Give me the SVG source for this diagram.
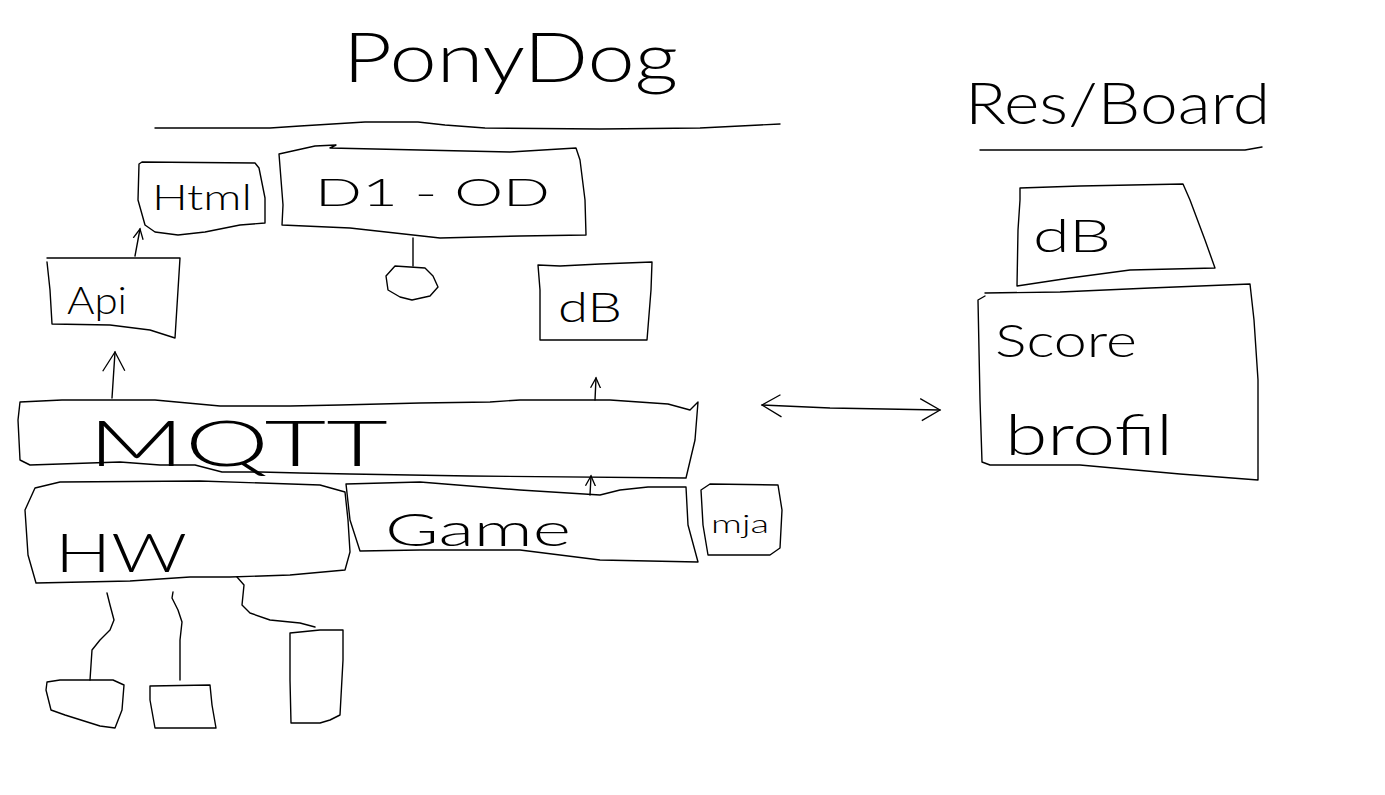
<svg xmlns="http://www.w3.org/2000/svg" width="1385" height="795" viewBox="0 0 1385 795">
<style>
.s{fill:none;stroke:#000;stroke-width:1.4;stroke-linejoin:round;stroke-linecap:round}
.t{font-family:"Lato","Liberation Sans",sans-serif;font-weight:300;fill:#000}
</style>
<defs>
<marker id="ah" viewBox="0 0 12 12" refX="10" refY="6" markerWidth="12" markerHeight="12" markerUnits="userSpaceOnUse" orient="auto-start-reverse">
<path d="M0,1 L10,6 L0,11" fill="none" stroke="#000" stroke-width="1.3"/>
</marker>
<marker id="ahb" viewBox="0 0 24 24" refX="22" refY="12" markerWidth="24" markerHeight="24" markerUnits="userSpaceOnUse" orient="auto-start-reverse">
<path d="M2,1 L22,12 L4,23" fill="none" stroke="#000" stroke-width="1.3"/>
</marker>
</defs>
<rect width="1385" height="795" fill="#fff"/>

<g id="title">
<text class="t" x="343" y="82" font-size="68" textLength="335" lengthAdjust="spacingAndGlyphs">PonyDog</text>
<path class="s" d="M155,128 L270,128 L300,126 L365,122 L418,122 L445,125 L485,128 L600,129 L700,128 L760,125 L780,124"/>
</g>

<g id="html">
<path class="s" d="M139,164 L142,162 L255,163 L259,168 L265,198 L265,223 L240,225 L205,232 L178,235 L155,232 L145,225 L138,200 Z"/>
<text class="t" x="152" y="210" font-size="36" textLength="100" lengthAdjust="spacingAndGlyphs">Html</text>
</g>

<g id="d1od">
<path class="s" d="M279,154 L315,146 L336,145 L330,148 L420,150 L510,152 L576,148 L580,160 L585,200 L586,235 L520,236 L440,238 L350,228 L282,225 L283,205 Z"/>
<text class="t" x="315" y="206" font-size="38" textLength="235" lengthAdjust="spacingAndGlyphs">D1 - OD</text>
</g>

<g id="sensor">
<path class="s" d="M395,266 L425,268 L433,276 L438,287 L430,296 L412,300 L400,297 L388,290 L386,276 Z"/>
</g>

<g id="api">
<path class="s" d="M47,258 L180,258 L178,290 L175,338 L150,330 L110,325 L52,324 L50,290 L47,262"/>
<text class="t" x="67" y="314" font-size="38" textLength="60" lengthAdjust="spacingAndGlyphs">Api</text>
</g>

<g id="db1">
<path class="s" d="M538,265 L560,266 L600,264 L652,262 L651,290 L647,340 L540,340 L540,290 Z"/>
<text class="t" x="558" y="322" font-size="42" textLength="64" lengthAdjust="spacingAndGlyphs">dB</text>
</g>

<g id="mqtt">
<path class="s" d="M20,402 L62,400 L155,400 L220,406 L290,406 L340,405 L420,403 L490,402 L520,400 L610,400 L668,404 L690,410 L698,402 L695,440 L686,478 L470,476 L350,474 L300,473 L260,472 L222,472 L195,465 L160,465 L120,462 L30,465 L20,460 L18,420 Z"/>
<text class="t" x="88" y="466" font-size="64" textLength="300" lengthAdjust="spacingAndGlyphs">MQTT</text>
</g>

<g id="hw">
<path class="s" d="M35,488 L60,482 L200,481 L320,485 L345,492 L348,520 L350,552 L345,570 L290,575 L230,577 L190,577 L130,581 L36,583 L28,555 L25,510 Z"/>
<text class="t" x="55" y="572" font-size="54" textLength="132" lengthAdjust="spacingAndGlyphs">HW</text>
</g>

<g id="game">
<path class="s" d="M346,484 L420,482 L520,490 L600,495 L620,490 L648,487 L686,487 L688,525 L698,562 L600,560 L520,550 L470,550 L420,550 L360,551 L350,520 Z"/>
<text class="t" x="385" y="546" font-size="46" textLength="186" lengthAdjust="spacingAndGlyphs">Game</text>
</g>

<g id="mja">
<path class="s" d="M701,490 L703,525 L708,555 L770,555 L780,548 L782,510 L778,485 L710,484 Z"/>
<text class="t" x="711" y="533" font-size="26" textLength="58" lengthAdjust="spacingAndGlyphs">mja</text>
</g>

<g id="resboard">
<text class="t" x="965" y="124" font-size="58" textLength="305" lengthAdjust="spacingAndGlyphs">Res/Board</text>
<path class="s" d="M980,150 L1120,150 L1245,150 L1262,147"/>
</g>

<g id="db2">
<path class="s" d="M1020,188 L1080,186 L1183,184 L1190,200 L1205,240 L1215,268 L1130,270 L1070,278 L1017,286 L1018,230 L1020,200 Z"/>
<text class="t" x="1033" y="252" font-size="46" textLength="78" lengthAdjust="spacingAndGlyphs">dB</text>
</g>

<g id="score">
<path class="s" d="M985,293 L1060,292 L1150,288 L1250,284 L1254,320 L1258,380 L1258,480 L1180,474 L1080,465 L990,465 L982,462 L980,400 L978,300 L985,296"/>
<text class="t" x="995" y="357" font-size="46" textLength="142" lengthAdjust="spacingAndGlyphs">Score</text>
<text class="t" x="1005" y="455" font-size="58" textLength="168" lengthAdjust="spacingAndGlyphs">brofil</text>
</g>

<g id="dev1">
<path class="s" d="M47,682 L60,680 L113,680 L124,685 L122,710 L115,728 L100,726 L65,715 L51,710 L46,690 Z"/>
</g>
<g id="dev2">
<path class="s" d="M150,686 L210,685 L212,705 L216,728 L155,728 L150,700 Z"/>
</g>
<g id="dev3">
<path class="s" d="M290,633 L320,630 L343,630 L343,660 L340,715 L330,720 L320,723 L291,723 L290,680 Z"/>
</g>

<g id="connectors">
<path class="s" d="M135,256 L140,229" marker-end="url(#ah)"/>
<path class="s" d="M413,238 L413,266"/>
<path class="s" d="M112,398 L115,352" marker-end="url(#ahb)"/>
<path class="s" d="M595,400 L596,378" marker-end="url(#ah)"/>
<path class="s" d="M590,495 L591,476" marker-end="url(#ah)"/>
<path class="s" d="M762,405 L830,408 L940,410" marker-start="url(#ahb)" marker-end="url(#ahb)"/>
<path class="s" d="M107,593 L110,605 L114,620 L110,630 L100,640 L92,650 L90,680"/>
<path class="s" d="M173,592 L172,598 L178,610 L182,622 L180,640 L180,680"/>
<path class="s" d="M237,577 L244,585 L242,605 L250,613 L270,620 L300,623 L315,627"/>
</g>
</svg>
